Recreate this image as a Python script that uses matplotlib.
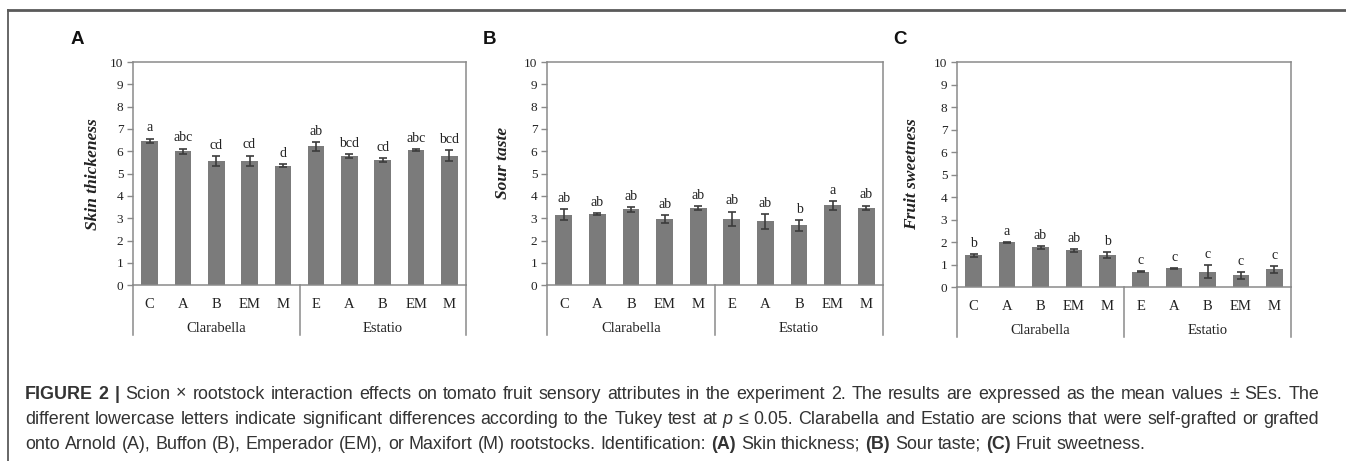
import matplotlib
matplotlib.use('Agg')
import matplotlib.pyplot as plt
from matplotlib.lines import Line2D
from matplotlib.transforms import blended_transform_factory
import numpy as np

# data
categories = ['C', 'A', 'B', 'EM', 'M', 'E', 'A', 'B', 'EM', 'M']
groups = ['Clarabella', 'Estatio']

skin = [6.48, 6.01, 5.57, 5.57, 5.36, 6.22, 5.79, 5.60, 6.06, 5.81]
skin_se = [0.09, 0.11, 0.21, 0.24, 0.08, 0.20, 0.09, 0.08, 0.03, 0.25]
skin_letters = ['a', 'abc', 'cd', 'cd', 'd', 'ab', 'bcd', 'cd', 'abc', 'bcd']

sour = [3.16, 3.20, 3.41, 2.97, 3.46, 2.97, 2.86, 2.68, 3.59, 3.46]
sour_se = [0.25, 0.03, 0.11, 0.18, 0.08, 0.33, 0.33, 0.25, 0.20, 0.11]
sour_letters = ['ab', 'ab', 'ab', 'ab', 'ab', 'ab', 'ab', 'b', 'a', 'ab']

sweet = [1.41, 1.98, 1.76, 1.63, 1.41, 0.68, 0.83, 0.68, 0.52, 0.78]
sweet_se = [0.07, 0.02, 0.06, 0.06, 0.13, 0.03, 0.02, 0.30, 0.15, 0.16]
sweet_letters = ['b', 'a', 'ab', 'ab', 'b', 'c', 'c', 'c', 'c', 'c']

W, H = 1346, 461
SERIF = 'Liberation Serif'
SANS = 'Liberation Sans'
BAR = '#7b7b7b'
SPINE = '#8a8a8a'

fig = plt.figure(figsize=(W / 100, H / 100), dpi=100)


def px_rect(left, right, top, bottom):
    return [left / W, 1 - bottom / H, (right - left) / W, (bottom - top) / H]


def panel(rect, values, errors, letters, ylabel, tag, tag_xy, ylab_dx, ylab_y):
    ax = fig.add_axes(rect)
    x = np.arange(len(categories))
    ax.bar(x, values, width=0.5, color=BAR, zorder=2)
    ax.errorbar(x, values, yerr=errors, fmt='none', ecolor='#3c3c3c',
                elinewidth=1.2, capsize=3.2, capthick=1.2, zorder=3)
    for xi, v, e, lab in zip(x, values, errors, letters):
        ax.annotate(lab, (xi, v + e), xytext=(0, 3), textcoords='offset points',
                    ha='center', va='bottom', fontsize=10, family=SERIF, color='#222222')

    ax.set_xlim(-0.5, len(categories) - 0.5)
    ax.set_ylim(0, 10)
    ax.set_yticks(range(0, 11))
    ax.set_yticklabels([str(i) for i in range(0, 11)], family=SERIF, fontsize=9.5, color='#222222')
    ax.set_xticks(x)
    ax.set_xticklabels(categories, family=SERIF, fontsize=10.5, color='#222222')
    ax.tick_params(axis='x', length=0, pad=9)
    ax.tick_params(axis='y', length=4, width=1, color=SPINE, pad=3)
    for s in ax.spines.values():
        s.set_color(SPINE)
        s.set_linewidth(1.1)

    # Excel-style two-level category axis
    hpx = rect[3] * H
    depth = -50 / hpx
    trans = blended_transform_factory(ax.transData, ax.transAxes)
    for xs in [-0.5, 4.5, 9.5]:
        ax.add_line(Line2D([xs, xs], [0, depth], transform=trans, color=SPINE,
                           lw=1.1, clip_on=False))
    for gi, g in enumerate(groups):
        ax.text(2 + 5 * gi, -43 / hpx, g, transform=trans, ha='center', va='center',
                family=SERIF, fontsize=10.5, color='#222222')

    wpx = rect[2] * W
    ax.text(ylab_dx / wpx, ylab_y, ylabel, transform=ax.transAxes, rotation=90,
            ha='center', va='center', family=SERIF, fontweight='bold',
            fontstyle='italic', fontsize=12.5, color='#222222')
    fig.text(tag_xy[0] / W, 1 - tag_xy[1] / H, tag, ha='center', va='center',
             family=SANS, fontweight='bold', fontsize=13.5, color='#111111')
    return ax


panel(px_rect(133, 466, 62, 285.3), skin, skin_se, skin_letters,
      'Skin thickeness', 'A', (77, 39), -40, 0.50)
panel(px_rect(547, 883, 62, 285.3), sour, sour_se, sour_letters,
      'Sour taste', 'B', (490, 39), -44, 0.55)
panel(px_rect(957, 1291, 62, 287), sweet, sweet_se, sweet_letters,
      'Fruit sweetness', 'C', (900, 39), -45, 0.50)

# outer frame (left and top rules)
fig.add_artist(Line2D([8 / W, 8 / W], [0, 1 - 10 / H], transform=fig.transFigure,
                      color='#5a5a5a', lw=1.3))
fig.add_artist(Line2D([8 / W, 1], [1 - 10 / H, 1 - 10 / H], transform=fig.transFigure,
                      color='#5a5a5a', lw=2))

# caption, laid out word by word and justified
N, B, I = {}, {'fontweight': 'bold'}, {'fontstyle': 'italic'}
caption = [
    ([('FIGURE', B), ('2', B), ('|', B)] +
     [(w, N) for w in 'Scion × rootstock interaction effects on tomato fruit sensory attributes '
      'in the experiment 2. The results are expressed as the mean values ± SEs. The'.split()], True),
    ([(w, N) for w in 'different lowercase letters indicate significant differences according '
      'to the Tukey test at'.split()] + [('p', I)] +
     [(w, N) for w in '≤ 0.05. Clarabella and Estatio are scions that were self-grafted or grafted'.split()], True),
    ([(w, N) for w in 'onto Arnold (A), Buffon (B), Emperador (EM), or Maxifort (M) rootstocks. '
      'Identification:'.split()] + [('(A)', B), ('Skin', N), ('thickness;', N), ('(B)', B),
                                    ('Sour', N), ('taste;', N), ('(C)', B), ('Fruit', N),
                                    ('sweetness.', N)], False),
]
cap_y = [394, 419, 444]
x0, x1 = 25, 1319
renderer = fig.canvas.get_renderer()
style = dict(family=SANS, fontsize=12.9, color='#333333', va='center', ha='left')

probe = fig.text(0, 0, 'a a', **style)
w2 = probe.get_window_extent(renderer).width
probe.set_text('aa')
space = w2 - probe.get_window_extent(renderer).width
probe.remove()

for (words, justify), y in zip(caption, cap_y):
    arts = [fig.text(0, 1 - y / H, w, **style, **p) for w, p in words]
    widths = [a.get_window_extent(renderer).width for a in arts]
    gap = (x1 - x0 - sum(widths)) / (len(arts) - 1) if justify else space
    xp = x0
    for a, w in zip(arts, widths):
        a.set_x(xp / W)
        xp += w + gap

fig.savefig('out.png', dpi=100)
